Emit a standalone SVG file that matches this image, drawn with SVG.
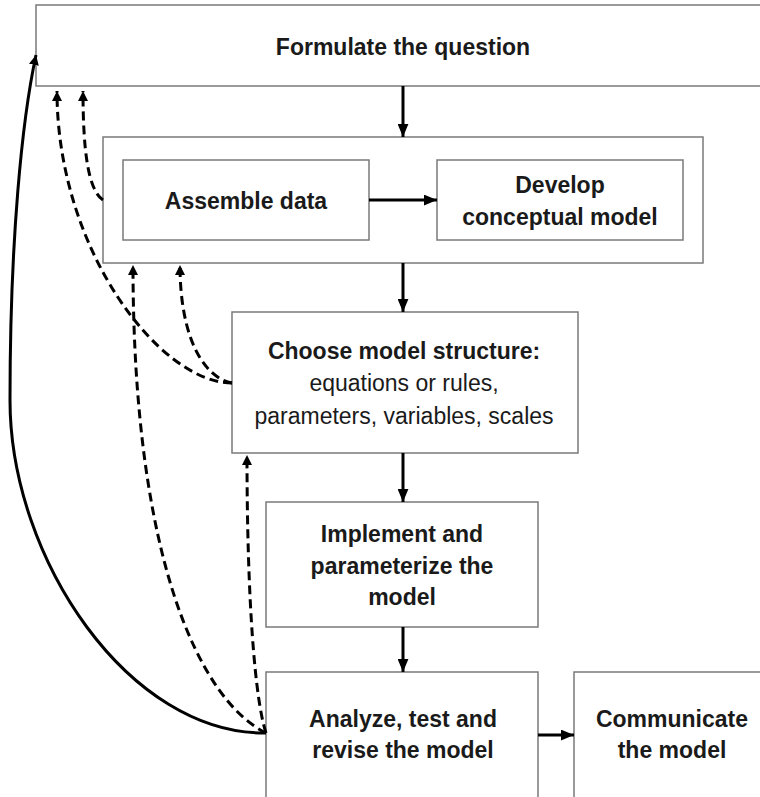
<svg xmlns="http://www.w3.org/2000/svg" width="760" height="797" viewBox="0 0 760 797">
<defs>
<style>
.box{fill:#fff;stroke:#7a7a7a;stroke-width:1.5}
.t{font-family:"Liberation Sans",Arial,sans-serif;font-size:23px;fill:#1a1a1a;text-anchor:middle}
.b{font-weight:bold}
.r{font-weight:normal}
.solid{fill:none;stroke:#000;stroke-width:3}
.dash{fill:none;stroke:#000;stroke-width:3;stroke-dasharray:9 5}
</style>
<marker id="ah" viewBox="0 0 12 10" refX="12" refY="5" markerWidth="13" markerHeight="11" markerUnits="userSpaceOnUse" orient="auto">
<path d="M0,0 L12,5 L0,10 z" fill="#000"/>
</marker>
<marker id="ahs" viewBox="0 0 10 10" refX="10" refY="5" markerWidth="10" markerHeight="10" markerUnits="userSpaceOnUse" orient="auto">
<path d="M0,0 L10,5 L0,10 z" fill="#000"/>
</marker>
</defs>
<rect width="760" height="797" fill="#fff"/>

<g id="formulate">
<rect class="box" x="36" y="5" width="734" height="81"/>
<text class="t b" x="403" y="55">Formulate the question</text>
</g>

<g id="data-group">
<rect class="box" x="103" y="137" width="600" height="126"/>
</g>

<g id="assemble">
<rect class="box" x="123" y="160" width="246" height="80"/>
<text class="t b" x="246" y="209">Assemble data</text>
</g>

<g id="develop">
<rect class="box" x="437" y="160" width="246" height="80"/>
<text class="t b" x="560" y="193">Develop</text>
<text class="t b" x="560" y="225">conceptual model</text>
</g>

<g id="choose">
<rect class="box" x="232" y="312" width="346" height="141"/>
<text class="t b" x="404" y="359">Choose model structure:</text>
<text class="t r" x="404" y="391">equations or rules,</text>
<text class="t r" x="404" y="424">parameters, variables, scales</text>
</g>

<g id="implement">
<rect class="box" x="266" y="502" width="272" height="125"/>
<text class="t b" x="402" y="542">Implement and</text>
<text class="t b" x="402" y="574">parameterize the</text>
<text class="t b" x="402" y="605">model</text>
</g>

<g id="analyze">
<rect class="box" x="266" y="672" width="272" height="126"/>
<text class="t b" x="403" y="727">Analyze, test and</text>
<text class="t b" x="403" y="758">revise the model</text>
</g>

<g id="communicate">
<rect class="box" x="574" y="672" width="196" height="126"/>
<text class="t b" x="672" y="727">Communicate</text>
<text class="t b" x="672" y="758">the model</text>
</g>

<g id="connectors">
<line class="solid" x1="403" y1="86" x2="403" y2="137" marker-end="url(#ah)"/>
<line class="solid" x1="369" y1="200" x2="437" y2="200" marker-end="url(#ah)"/>
<line class="solid" x1="403" y1="263" x2="403" y2="312" marker-end="url(#ah)"/>
<line class="solid" x1="403" y1="453" x2="403" y2="502" marker-end="url(#ah)"/>
<line class="solid" x1="403" y1="627" x2="403" y2="672" marker-end="url(#ah)"/>
<line class="solid" x1="538" y1="735" x2="574" y2="735" marker-end="url(#ah)"/>
<path class="solid" d="M266,733 C130,735 10,560 10,400 C10,240 22,120 36,55" marker-end="url(#ahs)"/>
<path class="dash" d="M103,200 C88,190 83,150 83,91" marker-end="url(#ahs)"/>
<path class="dash" d="M232,383 C160,383 57,250 57,91" marker-end="url(#ahs)"/>
<path class="dash" d="M232,383 C205,378 180,340 180,265" marker-end="url(#ahs)"/>
<path class="dash" d="M266,733 C200,700 133,560 133,265" marker-end="url(#ahs)"/>
<path class="dash" d="M266,733 C255,700 247,600 247,455" marker-end="url(#ahs)"/>
</g>
</svg>
